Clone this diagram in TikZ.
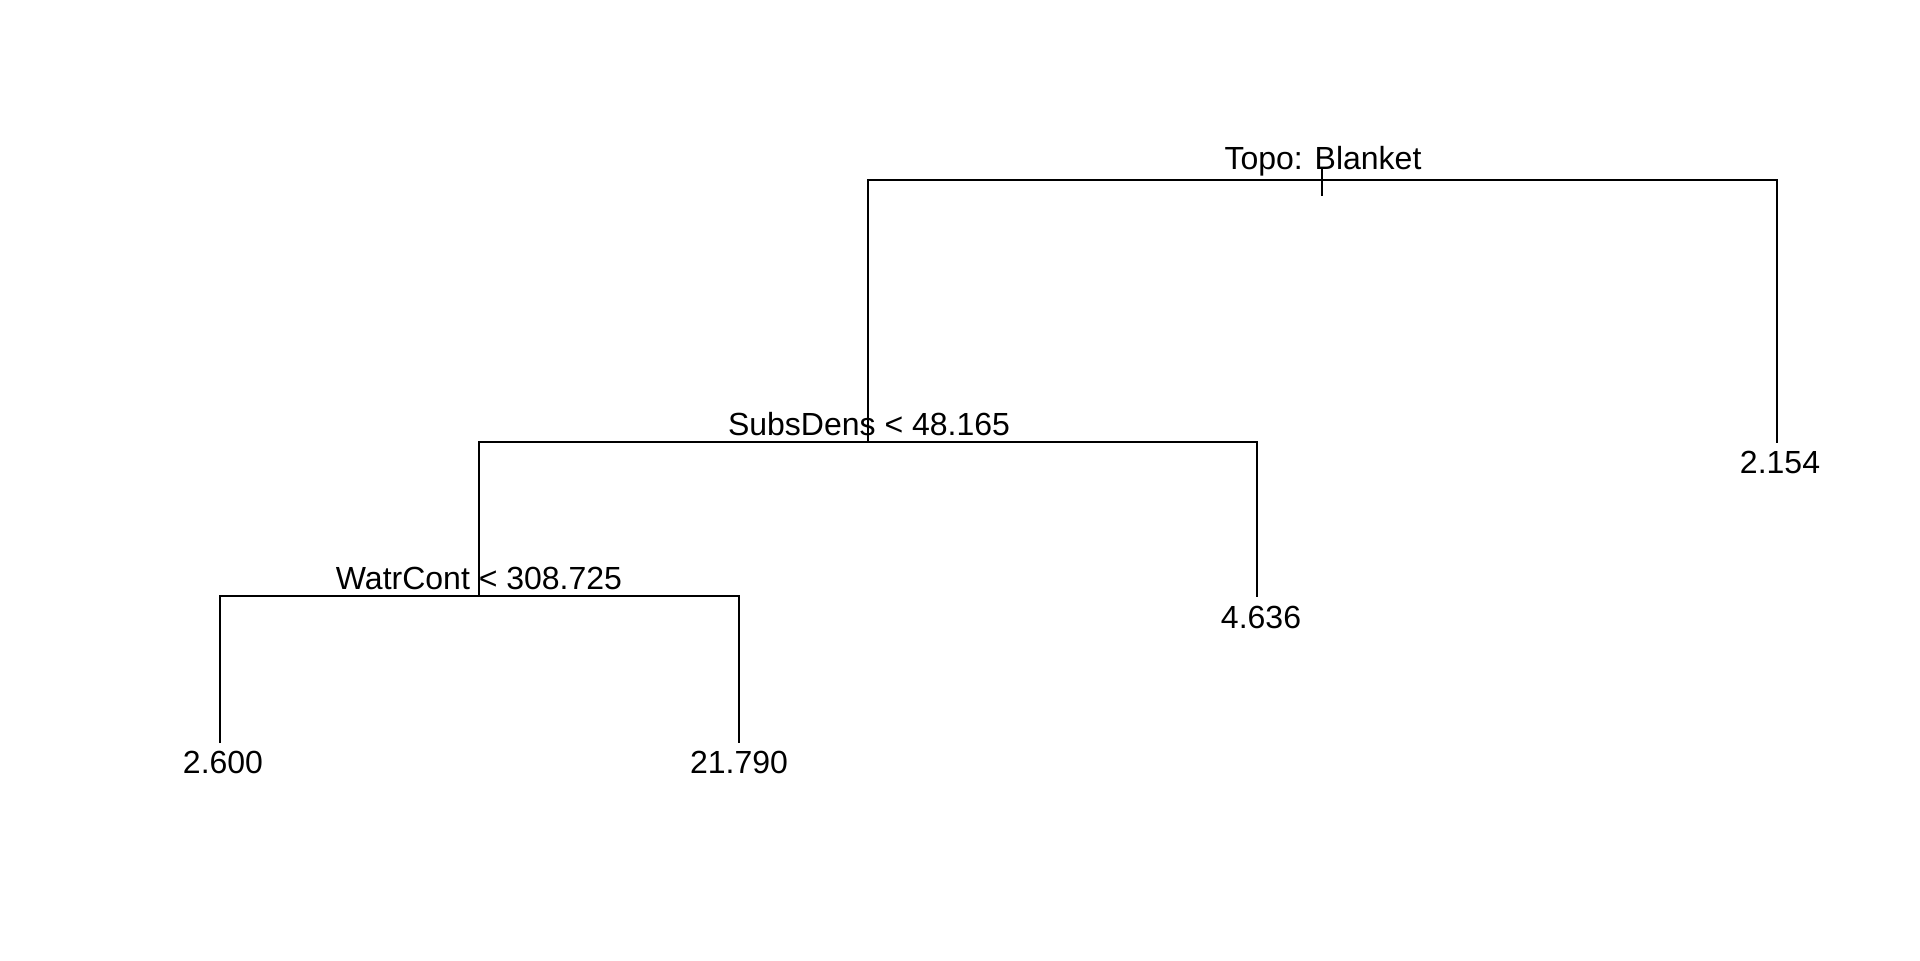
\documentclass[tikz,border=0pt]{standalone}
\usepackage{fontspec}
\setmainfont{Liberation Sans}
\begin{document}
\begin{tikzpicture}[x=0.5pt,y=-0.5pt,
  edge/.style={line width=0.8pt,black},
  lbl/.style={anchor=base,inner sep=0pt,font=\fontsize{16}{19}\selectfont},
]
\useasboundingbox (0,0) rectangle (1920,960);
% split points
\coordinate (root) at (1322,180);
\coordinate (rtop) at (1322,167);
\coordinate (rbot) at (1322,196);
\coordinate (n2) at (868,442);
\coordinate (n3) at (479,596);
% leaves
\coordinate (l1) at (1777,443);
\coordinate (l2) at (1257,597);
\coordinate (l3) at (220,743);
\coordinate (l4) at (739,743);
% connectors
\draw[edge] (rtop) -- (rbot);
\draw[edge] (n2) |- (root) -| (l1);
\draw[edge] (n3) |- (n2) -| (l2);
\draw[edge] (l3) |- (n3) -| (l4);
% labels
\node[lbl] (t1) at (1323,169) {Topo: Blanket};
\node[lbl] (t2) at (869,435.5) {SubsDens < 48.165};
\node[lbl] (t3) at (479,589) {WatrCont < 308.725};
\node[lbl] (v1) at (1780,473.5) {2.154};
\node[lbl] (v2) at (1261,628) {4.636};
\node[lbl] (v3) at (223,773.5) {2.600};
\node[lbl] (v4) at (739,773.5) {21.790};
\end{tikzpicture}
\end{document}
